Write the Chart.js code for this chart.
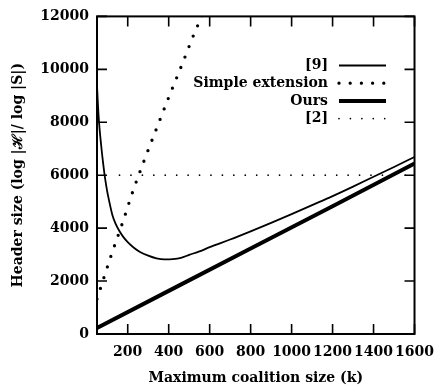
<!DOCTYPE html>
<html><head><meta charset="utf-8">
<script src="https://cdn.jsdelivr.net/npm/chart.js@4"></script>
<style>html,body{margin:0;padding:0;background:#fff;} canvas{display:block;}</style>
</head><body>
<canvas id="c" width="444" height="390"></canvas>
<script>
// ---- data ----
const xTickValues = [200, 400, 600, 800, 1000, 1200, 1400, 1600];
const yTickValues = [0, 2000, 4000, 6000, 8000, 10000, 12000];
const seriesLabels = ['[9]', 'Simple extension', 'Ours', '[2]'];

const k9 = [50, 55, 60, 70, 80, 90, 100, 110, 125, 140, 160, 180, 200, 230, 260, 300, 340, 380, 420, 460, 500, 550, 600, 700, 800, 900, 1000, 1100, 1200, 1300, 1400, 1500, 1600];
const v9 = [9400, 8600, 8000, 7150, 6450, 5850, 5380, 5000, 4500, 4180, 3880, 3650, 3470, 3260, 3100, 2960, 2860, 2820, 2830, 2880, 2990, 3120, 3280, 3570, 3880, 4200, 4530, 4870, 5210, 5570, 5940, 6310, 6690];

const kSimple = [50, 70, 120, 175, 225, 285, 345, 400, 465, 525, 550, 600];
const vSimple = [1320, 1800, 2990, 4210, 5390, 6650, 7850, 8940, 10180, 11360, 11800, 12700];

const kOurs = [50, 400, 800, 1200, 1600];
const vOurs = [225, 1630, 3230, 4830, 6444];

const kRef2 = [160, 1600];
const vRef2 = [6000, 6000];

const toPts = (ks, vs) => ks.map((k, i) => ({x: k, y: vs[i]}));

const FONT = 'DejaVu Serif';

const framePlugin = {
  id: 'frame',
  beforeDatasetsDraw(chart) {
    const {ctx, chartArea: a, scales: {x, y}} = chart;
    ctx.save();
    ctx.strokeStyle = '#000';
    ctx.lineWidth = 1.6;
    ctx.beginPath();
    x.ticks.forEach(t => {
      const px = x.getPixelForValue(t.value);
      ctx.moveTo(px, a.bottom); ctx.lineTo(px, a.bottom - 10);
      ctx.moveTo(px, a.top); ctx.lineTo(px, a.top + 10);
    });
    y.ticks.forEach(t => {
      const py = y.getPixelForValue(t.value);
      ctx.moveTo(a.left, py); ctx.lineTo(a.left + 10, py);
      ctx.moveTo(a.right, py); ctx.lineTo(a.right - 10, py);
    });
    ctx.stroke();
    ctx.lineWidth = 2;
    ctx.strokeRect(a.left, a.top, a.right - a.left, a.bottom - a.top);
    ctx.restore();
  }
};

const legendPlugin = {
  id: 'gpLegend',
  afterDatasetsDraw(chart) {
    const ctx = chart.ctx;
    ctx.save();
    chart.data.datasets.forEach((ds, i) => {
      const yy = 65.5 + i * 17.7;
      ctx.fillStyle = '#000';
      ctx.font = 'bold 14px "' + FONT + '"';
      ctx.textAlign = 'right';
      ctx.textBaseline = 'middle';
      ctx.fillText(ds.label, 328, yy);
      ctx.strokeStyle = '#000';
      ctx.lineWidth = ds.borderWidth;
      ctx.lineCap = ds.borderCapStyle || 'butt';
      ctx.setLineDash(ds.borderDash || []);
      ctx.beginPath();
      ctx.moveTo(339, yy);
      ctx.lineTo(386, yy);
      ctx.stroke();
    });
    ctx.restore();
  }
};

const tickFont = {family: FONT, weight: 'bold', size: 14};
const plainNumber = v => String(v);

new Chart(document.getElementById('c'), {
  type: 'line',
  data: {
    datasets: [
      {label: seriesLabels[0], data: toPts(k9, v9), borderColor: '#000', borderWidth: 1.8, pointRadius: 0, cubicInterpolationMode: 'monotone', fill: false},
      {label: seriesLabels[1], data: toPts(kSimple, vSimple), borderColor: '#000', borderWidth: 3.3, borderDash: [0, 11.2], borderCapStyle: 'round', pointRadius: 0, cubicInterpolationMode: 'monotone', fill: false},
      {label: seriesLabels[2], data: toPts(kOurs, vOurs), borderColor: '#000', borderWidth: 4, pointRadius: 0, fill: false},
      {label: seriesLabels[3], data: toPts(kRef2, vRef2), borderColor: '#000', borderWidth: 1.7, borderDash: [0, 11.43], borderCapStyle: 'round', pointRadius: 0, fill: false}
    ]
  },
  options: {
    responsive: false,
    animation: false,
    devicePixelRatio: 1,
    layout: {padding: {top: 11, right: 22, left: 0, bottom: 0}},
    plugins: {legend: {display: false}, tooltip: {enabled: false}},
    scales: {
      x: {
        type: 'linear', min: 50, max: 1600,
        afterBuildTicks: s => { s.ticks = xTickValues.map(v => ({value: v})); },
        afterFit: s => { s.height = 56; },
        grid: {display: false, drawTicks: false},
        border: {display: false},
        ticks: {font: tickFont, color: '#000', padding: 10, maxRotation: 0, autoSkip: false, callback: plainNumber},
        title: {display: true, text: 'Maximum coalition size (k)', font: tickFont, color: '#000', padding: {top: 0, bottom: 3}}
      },
      y: {
        type: 'linear', min: 0, max: 12000,
        afterBuildTicks: s => { s.ticks = yTickValues.map(v => ({value: v})); },
        afterFit: s => { s.width = 97; },
        grid: {display: false, drawTicks: false},
        border: {display: false},
        ticks: {font: tickFont, color: '#000', padding: 8, autoSkip: false, callback: plainNumber},
        title: {display: true, text: 'Header size (log |ℋ|/ log |S|)', font: tickFont, color: '#000', padding: {top: 10, bottom: 0}}
      }
    }
  },
  plugins: [framePlugin, legendPlugin]
});
</script>
</body></html>
